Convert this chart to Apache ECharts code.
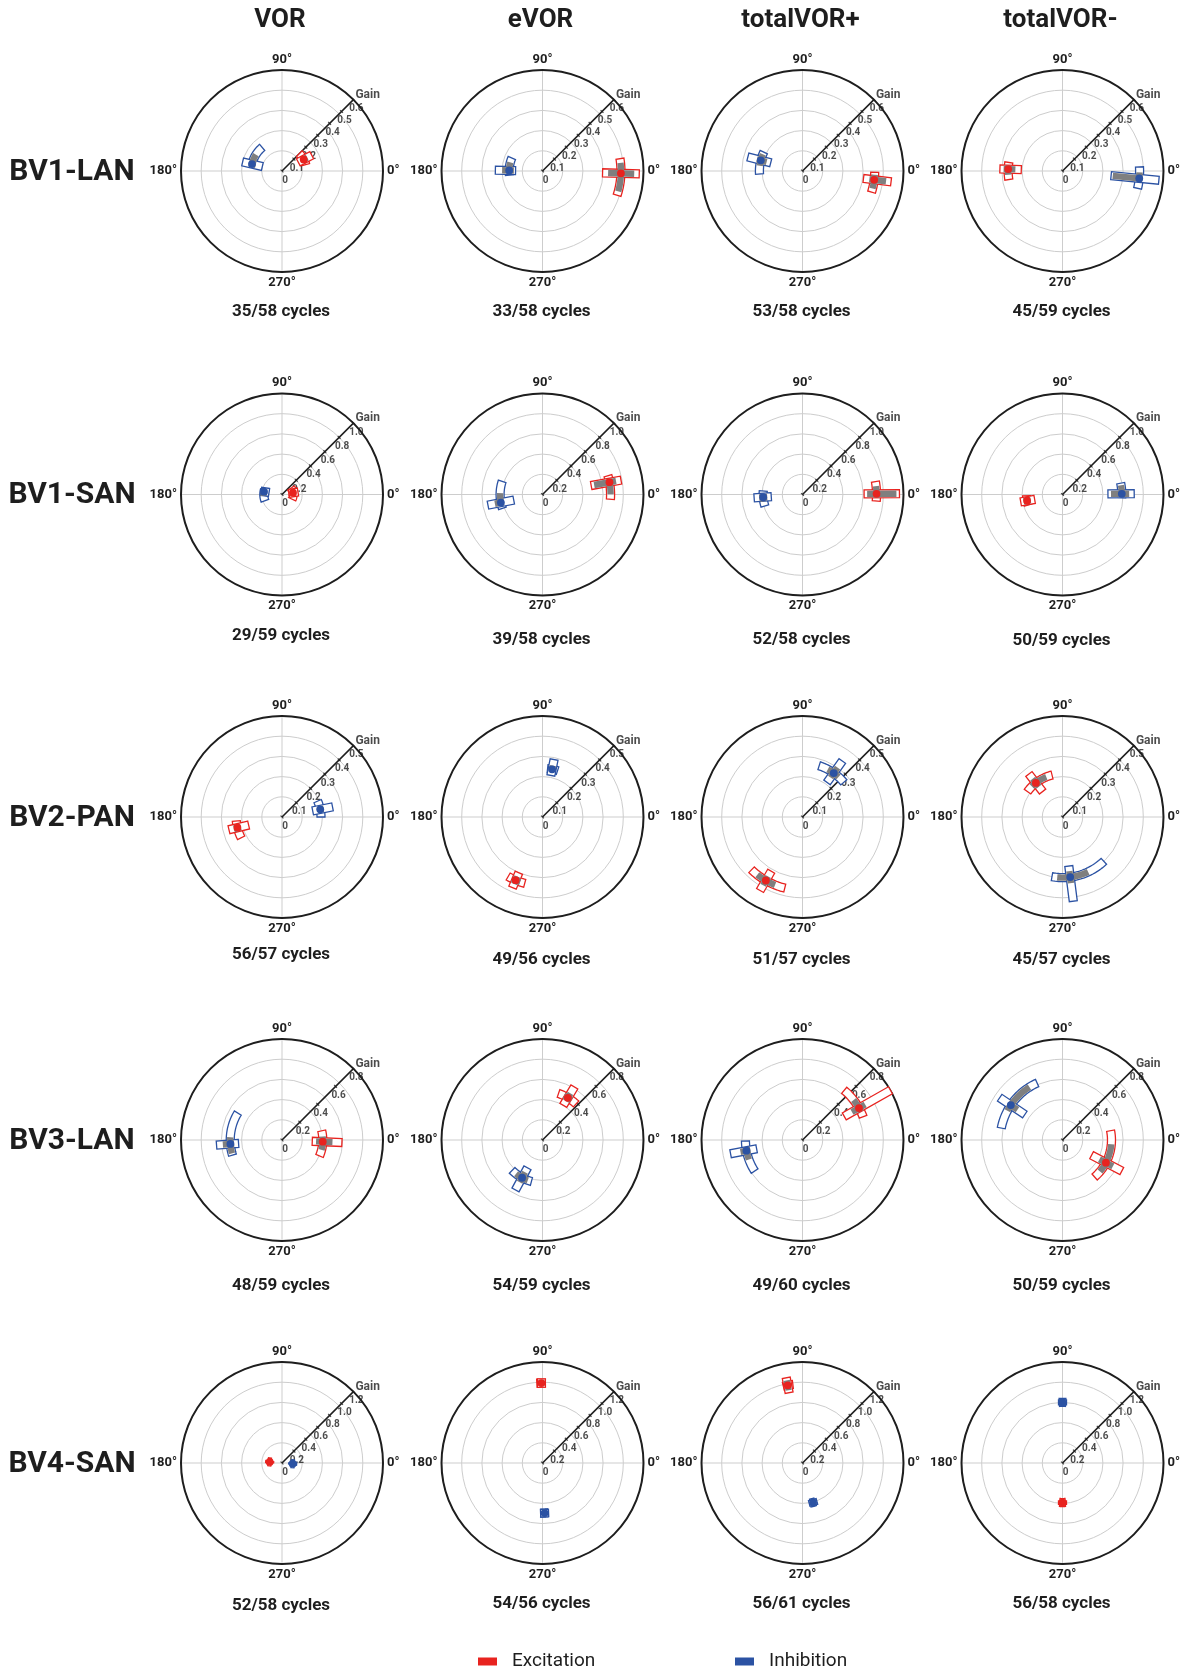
<!DOCTYPE html>
<html><head><meta charset="utf-8">
<script src="https://cdn.jsdelivr.net/npm/echarts@6/dist/echarts.min.js"></script>
<style>html,body{margin:0;padding:0;background:#fff}#chart{width:1192px;height:1670px}</style>
</head><body><div id="chart"></div>
<script>
// ---------------- data ----------------
const columns = ['VOR', 'eVOR', 'totalVOR+', 'totalVOR-'];
const rows = ['BV1-LAN', 'BV1-SAN', 'BV2-PAN', 'BV3-LAN', 'BV4-SAN'];
const gainMax = [0.6, 1.0, 0.5, 0.8, 1.2];
const gainStep = [0.1, 0.2, 0.1, 0.2, 0.2];
const angleTicks = [0, 90, 180, 270];
const cycles = [
  ['35/58 cycles', '33/58 cycles', '53/58 cycles', '45/59 cycles'],
  ['29/59 cycles', '39/58 cycles', '52/58 cycles', '50/59 cycles'],
  ['56/57 cycles', '49/56 cycles', '51/57 cycles', '45/57 cycles'],
  ['48/59 cycles', '54/59 cycles', '49/60 cycles', '50/59 cycles'],
  ['52/58 cycles', '54/56 cycles', '56/61 cycles', '56/58 cycles']
];
// per panel (row-major): [gain, phase, gainLo, gainHi, phaseLo, phaseHi, grayGainLo, grayGainHi, grayPhaseLo, grayPhaseHi]
const excitation = [
  [0.146, 28, 0.11, 0.20, 15, 45, 0.13, 0.17, 22, 35],
  [0.466, -1.7, 0.357, 0.575, -18, 9, 0.39, 0.545, -15, 6],
  [0.429, -7, 0.365, 0.53, -17, -1, 0.40, 0.50, -14, -3],
  [0.323, 178, 0.245, 0.372, 171, 189, 0.28, 0.35, 174, 184],
  [0.11, 9, 0.07, 0.16, -25, 35, 0.09, 0.13, 0, 18],
  [0.674, 10.4, 0.49, 0.79, -4, 16, 0.52, 0.74, 0, 13],
  [0.733, 0.5, 0.61, 0.96, -5, 10, 0.64, 0.93, -2.5, 6.5],
  [0.356, 190, 0.28, 0.42, 182, 197, 0.32, 0.39, 185, 195],
  [0.227, 193.5, 0.17, 0.27, 185, 207, 0.21, 0.245, 190, 198],
  [0.34, 247, 0.30, 0.38, 240, 255, 0.32, 0.36, 244, 251],
  [0.363, 240, 0.31, 0.42, 226, 256, 0.34, 0.39, 232, 248],
  [0.214, 128, 0.16, 0.27, 104, 144, 0.19, 0.24, 112, 135],
  [0.323, -2.4, 0.24, 0.475, -23, 13, 0.27, 0.40, -14, 5],
  [0.39, 59, 0.32, 0.49, 47, 71, 0.36, 0.43, 54, 64],
  [0.514, 29.5, 0.38, 0.80, 21, 50, 0.45, 0.57, 26, 38],
  [0.388, -27.6, 0.26, 0.53, -49, 11, 0.33, 0.45, -40, -5],
  [0.147, 175, 0.13, 0.165, 171, 179, 0.14, 0.155, 173, 177],
  [0.95, 90.8, 0.90, 1.00, 88, 94, 0.92, 0.98, 89, 92.5],
  [0.94, 100.8, 0.85, 1.03, 97, 104, 0.88, 1.00, 99, 103],
  [0.47, 270, 0.45, 0.49, 266, 274, 0.46, 0.48, 268, 272]
];
const inhibition = [
  [0.183, 167, 0.12, 0.24, 130, 172, 0.16, 0.20, 148, 168],
  [0.198, 179, 0.16, 0.28, 157, 187, 0.17, 0.24, 165, 184],
  [0.256, 165.6, 0.195, 0.335, 154, 184, 0.22, 0.28, 157, 173],
  [0.458, -5.5, 0.29, 0.575, -13, 3, 0.30, 0.47, -8, -1],
  [0.18, 171, 0.13, 0.21, 165, 200, 0.16, 0.20, 170, 185],
  [0.42, 191, 0.29, 0.55, 162, 199, 0.39, 0.48, 178, 192],
  [0.39, 184, 0.31, 0.48, 175, 197, 0.35, 0.43, 180, 190],
  [0.587, 0.7, 0.45, 0.71, -3, 11, 0.48, 0.66, -2, 9],
  [0.193, 11.3, 0.155, 0.255, 0, 24, 0.18, 0.21, 8, 15],
  [0.241, 78.6, 0.21, 0.29, 72, 84, 0.23, 0.26, 76, 81],
  [0.267, 54.6, 0.21, 0.34, 40, 72, 0.24, 0.30, 48, 62],
  [0.30, 277.3, 0.245, 0.42, 260, 313, 0.27, 0.33, 265, 295],
  [0.41, 184.4, 0.345, 0.52, 148.6, 197, 0.38, 0.47, 177, 195],
  [0.34, 241.6, 0.25, 0.45, 225, 255, 0.29, 0.38, 232, 250],
  [0.452, 190.8, 0.37, 0.58, 181, 213, 0.42, 0.50, 188, 200],
  [0.494, 146, 0.36, 0.60, 114, 169, 0.43, 0.52, 122, 152],
  [0.127, -3.7, 0.11, 0.145, -9, 2, 0.12, 0.135, -6, 0],
  [0.595, 272.4, 0.55, 0.64, 268, 276, 0.57, 0.62, 270, 274],
  [0.485, 285, 0.45, 0.52, 281, 288, 0.46, 0.51, 283, 287],
  [0.72, 90, 0.69, 0.75, 87, 93, 0.70, 0.74, 88, 92]
];
const legendNames = ['Excitation', 'Inhibition'];

// ---------------- layout / style ----------------
const colX = [282, 542.5, 802.5, 1062.5];
const rowY = [171, 494.5, 817, 1140, 1463];
const captionY = [[312, 312, 312, 312], [636, 640, 640, 641], [955, 960, 960, 960], [1286, 1286, 1286, 1286], [1606, 1604, 1604, 1604]];
const R = 101;
const FONT = 'Roboto, "Open Sans", "DejaVu Sans", sans-serif';
const RED = '#e8231f', BLUE = '#2b52a3', GRAY = '#7f7f7f', GRID = '#cdcdcd', INK = '#1e1e1e';
const GAIN_AXIS_ANGLE = 45;

function markerSeries(name, color, m, idx) {
  return {
    type: 'custom', name, coordinateSystem: 'polar', polarIndex: idx, z: 6,
    itemStyle: { color },
    data: [m],
    renderItem: (params, api) => {
      const v = k => api.value(k);
      const g = v(0), th = v(1);
      const C = api.coord([0, 0]);
      const arcPoly = (rad, a1, a2, t) => {
        const out = [], inn = [];
        const n = 32;
        for (let k = 0; k <= n; k++) {
          const a = a1 + (a2 - a1) * k / n;
          const P = api.coord([rad, a]);
          const dx = P[0] - C[0], dy = P[1] - C[1];
          const L = Math.hypot(dx, dy) || 1;
          out.push([C[0] + dx / L * (L + t), C[1] + dy / L * (L + t)]);
          inn.push([C[0] + dx / L * Math.max(L - t, 0), C[1] + dy / L * Math.max(L - t, 0)]);
        }
        return out.concat(inn.reverse());
      };
      const radPoly = (g1, g2, a, t) => {
        const P1 = api.coord([g1, a]), P2 = api.coord([g2, a]);
        const D = api.coord([g, a]);
        let ux = D[0] - C[0], uy = D[1] - C[1];
        const L = Math.hypot(ux, uy) || 1; ux /= L; uy /= L;
        const nx = -uy * t, ny = ux * t;
        return [[P1[0] + nx, P1[1] + ny], [P2[0] + nx, P2[1] + ny], [P2[0] - nx, P2[1] - ny], [P1[0] - nx, P1[1] - ny]];
      };
      const P = api.coord([g, th]);
      return {
        type: 'group',
        children: [
          { type: 'polygon', shape: { points: arcPoly(g, v(4), v(5), 4) }, style: { fill: '#fff', stroke: color, lineWidth: 1.3 } },
          { type: 'polygon', shape: { points: radPoly(v(2), v(3), th, 4) }, style: { fill: '#fff', stroke: color, lineWidth: 1.3 } },
          { type: 'polygon', shape: { points: arcPoly(g, v(8), v(9), 3.2) }, style: { fill: GRAY } },
          { type: 'polygon', shape: { points: radPoly(v(6), v(7), th, 3.2) }, style: { fill: GRAY } },
          { type: 'circle', shape: { cx: P[0], cy: P[1], r: 3.9 }, style: { fill: color } }
        ]
      };
    }
  };
}

const polar = [], angleAxis = [], radiusAxis = [], series = [], graphic = [];
rows.forEach((rowName, r) => {
  const M = gainMax[r], step = gainStep[r];
  const ticks = [];
  for (let k = 0; k <= Math.round(M / step); k++) ticks.push(+(k * step).toFixed(2));
  columns.forEach((colName, c) => {
    const i = r * 4 + c;
    polar.push({ center: [colX[c], rowY[r]], radius: R });
    angleAxis.push({
      polarIndex: i, type: 'value', min: 0, max: 360, interval: 90, startAngle: 0, clockwise: false,
      axisLine: { lineStyle: { color: INK, width: 2 } },
      axisTick: { show: false },
      axisLabel: {
        margin: 4, fontFamily: FONT, fontWeight: 'bold', fontSize: 13, color: INK,
        formatter: val => (angleTicks.indexOf(val) >= 0 ? val + '°' : '')
      },
      splitLine: { lineStyle: { color: GRID, width: 1 } }
    });
    radiusAxis.push({
      polarIndex: i, type: 'value', min: 0, max: M, interval: M / 5,
      axisLine: { show: false }, axisTick: { show: false }, axisLabel: { show: false },
      splitLine: { lineStyle: { color: GRID, width: 1 } }
    });
    // gain axis line
    series.push({
      type: 'line', coordinateSystem: 'polar', polarIndex: i, z: 3, silent: true,
      data: [[0, GAIN_AXIS_ANGLE], [M, GAIN_AXIS_ANGLE]], symbol: 'none',
      lineStyle: { color: INK, width: 1.6 }
    });
    // gain ticks and labels
    series.push({
      type: 'scatter', coordinateSystem: 'polar', polarIndex: i, z: 3, silent: true,
      data: ticks.map(t => [t, GAIN_AXIS_ANGLE]),
      symbol: 'rect', symbolSize: [4, 1.2], symbolRotate: -45, itemStyle: { color: INK },
      label: {
        show: true, position: 'inside', offset: [3, 9],
        fontFamily: FONT, fontWeight: 'bold', fontSize: 10, color: INK,
        formatter: p => (p.value[0] === 0 ? '0' : p.value[0].toFixed(1))
      }
    });
    // "Gain" label
    series.push({
      type: 'scatter', coordinateSystem: 'polar', polarIndex: i, z: 3, silent: true,
      data: [[M, GAIN_AXIS_ANGLE]], symbolSize: 0,
      label: { show: true, position: 'right', distance: 2, offset: [0, -5], formatter: 'Gain', fontFamily: FONT, fontWeight: 'bold', fontSize: 12, color: INK }
    });
    series.push(markerSeries(legendNames[0], RED, excitation[i], i));
    series.push(markerSeries(legendNames[1], BLUE, inhibition[i], i));

    graphic.push({
      type: 'text', x: colX[c] - 1, y: captionY[r][c],
      style: { text: cycles[r][c], font: 'bold 17px ' + FONT, fill: INK, align: 'center', verticalAlign: 'middle' }
    });
  });
  graphic.push({
    type: 'text', x: 72, y: rowY[r] + 1,
    style: { text: rowName, font: 'bold 30px ' + FONT, fill: INK, align: 'center', verticalAlign: 'middle' }
  });
});
columns.forEach((colName, c) => {
  graphic.push({
    type: 'text', x: colX[c] - 2, y: 20,
    style: { text: colName, font: 'bold 26px ' + FONT, fill: INK, align: 'center', verticalAlign: 'middle' }
  });
});

const legendBase = {
  top: 1647, itemWidth: 19, itemHeight: 8, icon: 'rect', selectedMode: false,
  textStyle: { fontFamily: FONT, fontSize: 19, color: INK, padding: [0, 0, 0, 10] }
};

const chart = echarts.init(document.getElementById('chart'), null, { renderer: 'canvas' });
chart.setOption({
  animation: false,
  backgroundColor: '#fff',
  polar, angleAxis, radiusAxis, series, graphic,
  legend: [
    Object.assign({}, legendBase, { left: 473, data: [legendNames[0]] }),
    Object.assign({}, legendBase, { left: 730, data: [legendNames[1]] })
  ]
});
</script>
</body></html>
